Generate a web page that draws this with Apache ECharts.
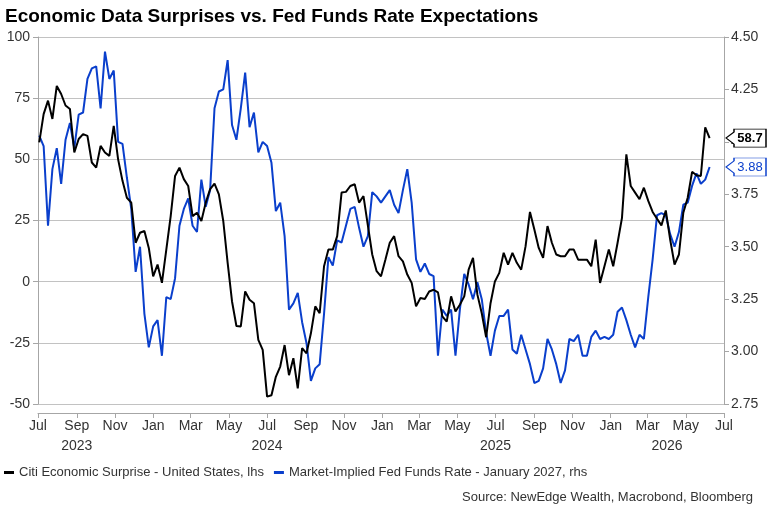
<!DOCTYPE html>
<html>
<head>
<meta charset="utf-8">
<script src="https://cdn.jsdelivr.net/npm/echarts@6/dist/echarts.min.js"></script>
<style>
html,body{margin:0;padding:0;background:#fff;}
#chart{width:769px;height:510px;}
</style>
</head>
<body>
<div id="chart"></div>
<script>
// ---- Data (weekly observations starting 2023-07-03) ----
var startDate = '2023-07-03';
var stepDays = 7;
var citiSurprise = [
  56.9, 68.5, 74, 66.5, 80, 76.7, 72, 70.6, 52.8, 58.3,
  60.3, 59.6, 48.7, 46.6, 55.5, 52.8, 51.4, 63.7, 50, 41.2,
  34.3, 32.3, 15.9, 20, 20.7, 13.8, 2.2, 7, -0.5, 13.1,
  26.8, 43.2, 46.6, 41.9, 39.1, 26.8, 28.2, 24.8, 32.3, 37.8,
  40.1, 35.7, 24.8, 7.7, -8.1, -18.1, -18.3, -4.0, -7.4, -8.8,
  -23.8, -27.9, -47.0, -46.4, -38.9, -34.7, -25.9, -38.2, -31.3, -43.6,
  -27.2, -29.3, -21.1, -10.1, -12.9, 6.3, 13.1, 13.1, 18.6, 36.4,
  36.7, 39.1, 39.8, 32.3, 35.0, 23.0, 11.1, 4.3, 2.2, 9.0,
  15.9, 18.6, 10.4, 8.3, 2.9, -0.5, -10.1, -6.7, -7.1, -4.0,
  -3.3, -4.4, -14.2, -16.3, -6.0, -12.2, -9.4, -6.0, 4.9, 9.7,
  -5.3, -12.9, -22.7, -8.8, 0.1, 3.6, 11.8, 7.0, 11.8, 7.7,
  4.9, 14.5, 28.5, 21.3, 13.8, 9.7, 22.7, 15.9, 11.1, 10.4,
  10.4, 13.1, 13.1, 9.0, 9.0, 9.0, 6.3, 17.2, -0.5, 6.3,
  13.1, 6.3, 15.9, 26.1, 52, 39.1, 36.4, 33.7, 38.4, 33.0,
  28.5, 25.7, 23.0, 29.1, 17.2, 7.0, 11.1, 28.2, 34.3, 44.9,
  43.5, 43.2, 63.1, 58.7
];
var fedFundsJan27 = [
  4.03, 3.98, 3.60, 3.87, 3.97, 3.80, 4.01, 4.09, 3.97, 4.13,
  4.14, 4.30, 4.35, 4.36, 4.16, 4.43, 4.30, 4.34, 4.00, 3.99,
  3.83, 3.68, 3.38, 3.50, 3.18, 3.02, 3.12, 3.15, 2.98, 3.26,
  3.25, 3.35, 3.60, 3.68, 3.73, 3.60, 3.57, 3.82, 3.69, 3.77,
  4.16, 4.24, 4.25, 4.39, 4.08, 4.01, 4.16, 4.33, 4.07, 4.14,
  3.95, 4.00, 3.98, 3.90, 3.67, 3.71, 3.55, 3.20, 3.23, 3.28,
  3.14, 3.04, 2.86, 2.92, 2.94, 3.18, 3.45, 3.41, 3.53, 3.52,
  3.60, 3.68, 3.69, 3.59, 3.50, 3.55, 3.76, 3.74, 3.71, 3.74,
  3.77, 3.70, 3.66, 3.77, 3.87, 3.71, 3.44, 3.38, 3.42, 3.37,
  3.36, 2.98, 3.20, 3.17, 3.20, 2.98, 3.20, 3.37, 3.32, 3.25,
  3.33, 3.25, 3.09, 2.98, 3.10, 3.17, 3.17, 3.20, 3.01, 2.99,
  3.08, 3.01, 2.94, 2.85, 2.86, 2.92, 3.06, 3.01, 2.94, 2.85,
  2.91, 3.06, 3.05, 3.08, 2.98, 2.98, 3.07, 3.10, 3.06, 3.07,
  3.06, 3.08, 3.19, 3.21, 3.15, 3.08, 3.02, 3.08, 3.06, 3.26,
  3.44, 3.65, 3.66, 3.65, 3.56, 3.50, 3.57, 3.70, 3.71, 3.79,
  3.85, 3.80, 3.82, 3.88
];
var monthTicks = ['2023-07','2023-09','2023-11','2024-01','2024-03','2024-05','2024-07','2024-09','2024-11',
  '2025-01','2025-03','2025-05','2025-07','2025-09','2025-11','2026-01','2026-03','2026-05','2026-07'];
var monthNames = ['Jan','Feb','Mar','Apr','May','Jun','Jul','Aug','Sep','Oct','Nov','Dec'];
var yearLabels = ['2023','2024','2025','2026'];
var yearLabelAt = ['2023-09-01','2024-07-01','2025-07-01','2026-04-01'];
var leftTicks = [-50, -25, 0, 25, 50, 75, 100];
var rightTicks = [2.75, 3.00, 3.25, 3.50, 3.75, 4.00, 4.25, 4.50];
var seriesNames = ['Citi Economic Surprise - United States, lhs', 'Market-Implied Fed Funds Rate - January 2027, rhs'];
var titleText = 'Economic Data Surprises vs. Fed Funds Rate Expectations';
var sourceText = 'Source: NewEdge Wealth, Macrobond, Bloomberg';

function ts(s){ var p = s.split('-'); return Date.UTC(+p[0], +p[1]-1, p[2] ? +p[2] : 1); }
var t0 = ts(startDate);
function pairs(arr){ return arr.map(function(v,i){ return [t0 + i*stepDays*86400000, v]; }); }
var xMin = ts(monthTicks[0]), xMax = ts(monthTicks[monthTicks.length-1]);
var monthVals = monthTicks.map(ts);
var yearVals = yearLabelAt.map(ts);

var BLUE = '#0a3fcc';
var FONT = '"Liberation Sans", Arial, sans-serif';
var calloutPath = 'path://M0,9L8,3L8,0L40,0L40,18L8,18L8,15Z';

var chart = echarts.init(document.getElementById('chart'), null, {renderer:'canvas'});
chart.setOption({
  animation: false,
  textStyle: {fontFamily: FONT},
  title: [
    {text: titleText, left: 0, top: 2, textStyle: {fontFamily: FONT, fontSize: 19, fontWeight: 'bold', color: '#000'}},
    {text: sourceText, right: 11, top: 486, textStyle: {fontFamily: FONT, fontSize: 13, fontWeight: 'normal', color: '#333'}}
  ],
  legend: {
    left: 4, top: 466, padding: 0, itemWidth: 10, itemHeight: 3, itemGap: 10, icon: 'rect',
    textStyle: {fontFamily: FONT, fontSize: 13, color: '#333'},
    data: seriesNames
  },
  grid: {left: 38, right: 45, top: 37, bottom: 106, containLabel: false},
  xAxis: [
    {type: 'value', min: xMin, max: xMax, offset: 9,
     axisLine: {show: true, onZero: false, lineStyle: {color: '#a6a6a6'}},
     axisTick: {show: true, length: 5, customValues: monthVals, lineStyle: {color: '#a6a6a6'}},
     axisLabel: {customValues: monthVals, margin: 6, fontSize: 14, color: '#333',
       formatter: function(v){ return monthNames[new Date(v).getUTCMonth()]; }},
     splitLine: {show: false}},
    {type: 'value', min: xMin, max: xMax, position: 'bottom', offset: 9,
     axisLine: {show: false, onZero: false}, axisTick: {show: false}, splitLine: {show: false},
     axisLabel: {customValues: yearVals, margin: 26, fontSize: 14, color: '#333',
       formatter: function(v){ return yearLabels[yearVals.indexOf(v)] || ''; }}}
  ],
  yAxis: [
    {type: 'value', min: leftTicks[0], max: leftTicks[leftTicks.length-1], interval: 25, position: 'left',
     axisLine: {show: true, onZero: false, lineStyle: {color: '#a6a6a6'}},
     axisTick: {show: true, length: 5, lineStyle: {color: '#a6a6a6'}},
     axisLabel: {margin: 8, fontSize: 14, color: '#333'},
     splitLine: {show: true, lineStyle: {color: '#c2c2c2', width: 1}}},
    {type: 'value', min: rightTicks[0], max: rightTicks[rightTicks.length-1], interval: 0.25, position: 'right',
     axisLine: {show: true, onZero: false, lineStyle: {color: '#a6a6a6'}},
     axisTick: {show: true, length: 5, lineStyle: {color: '#a6a6a6'}},
     axisLabel: {margin: 7, fontSize: 14, color: '#333', formatter: function(v){ return v.toFixed(2); }},
     splitLine: {show: false}}
  ],
  series: [
    {name: seriesNames[0], type: 'line', xAxisIndex: 0, yAxisIndex: 0, data: pairs(citiSurprise),
     showSymbol: false, color: '#000', lineStyle: {color: '#000', width: 2}, z: 3,
     markPoint: {silent: true, symbol: calloutPath, symbolSize: [40, 18], symbolOffset: [22, 0], symbolKeepAspect: false,
       itemStyle: {color: '#fff', borderColor: '#000', borderWidth: 1},
       label: {show: true, position: 'inside', offset: [4, 0], color: '#000', fontWeight: 'bold', fontSize: 13, fontFamily: FONT,
         formatter: function(){ return citiSurprise[citiSurprise.length-1].toFixed(1); }},
       data: [{coord: [xMax, citiSurprise[citiSurprise.length-1]]}]}},
    {name: seriesNames[1], type: 'line', xAxisIndex: 0, yAxisIndex: 1, data: pairs(fedFundsJan27),
     showSymbol: false, color: BLUE, lineStyle: {color: BLUE, width: 2}, z: 2,
     markPoint: {silent: true, symbol: calloutPath, symbolSize: [40, 18], symbolOffset: [22, 0], symbolKeepAspect: false,
       itemStyle: {color: '#fff', borderColor: BLUE, borderWidth: 1},
       label: {show: true, position: 'inside', offset: [4, 0], color: BLUE, fontSize: 13, fontFamily: FONT,
         formatter: function(){ return fedFundsJan27[fedFundsJan27.length-1].toFixed(2); }},
       data: [{coord: [xMax, fedFundsJan27[fedFundsJan27.length-1]]}]}}
  ]
});
</script>
</body>
</html>
